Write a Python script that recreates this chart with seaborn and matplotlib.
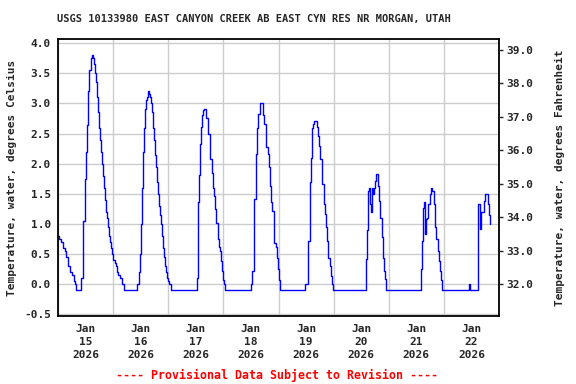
import numpy as np
import pandas as pd
import matplotlib
matplotlib.use("Agg")
import matplotlib.pyplot as plt
import matplotlib.dates as mdates
import seaborn as sns

# ---- data (hours since 2026-01-15 00:00, water temperature degC) ----
hours = [0.0, 0.65, 1.09, 1.96, 2.39, 2.83, 3.27, 3.70, 4.14, 4.57, 5.44, 6.31, 6.75, 7.18, 7.4, 7.62,
         10.23, 10.67, 11.10, 11.76, 12.19, 12.63, 13.06, 13.50, 14.15, 14.59, 15.24, 15.67, 16.11,
         16.55, 16.98, 17.42, 17.85, 18.29, 18.72, 19.16, 19.59, 20.03, 20.46, 20.90, 21.33, 21.77,
         22.21, 22.64, 23.08, 23.51, 23.95, 24.60, 25.04, 25.47, 26.12, 26.78, 27.65, 28.08, 28.74,
         34.61, 35.05, 35.70, 36.14, 36.57, 37.01, 37.44, 37.88, 38.32, 38.75, 39.19, 39.62, 40.06,
         40.49, 40.93, 41.36, 41.80, 42.23, 42.67, 43.10, 43.54, 43.98, 44.41, 44.85, 45.28, 45.72,
         46.15, 46.59, 47.02, 47.46, 47.89, 48.33, 48.98,
         60.30, 60.43, 61.04, 61.30, 61.61, 61.91, 62.17, 62.61, 63.05, 63.48, 63.92, 64.22, 64.53,
         65.09, 65.40, 65.96, 66.27, 66.83, 67.40, 68.01, 68.27, 68.88, 69.45, 69.75, 70.01, 70.32,
         70.88, 71.49, 71.75, 72.36, 72.62,
         83.95, 84.56, 85.12, 85.43, 85.99, 86.30, 86.56, 87.17, 87.73, 88.73, 89.17, 89.78, 90.35,
         90.65, 91.22, 91.78, 92.09, 92.65, 93.26, 93.83, 94.13, 94.70, 95.27, 95.57, 96.14, 96.75,
         107.46, 108.94, 109.50, 110.07, 110.38, 110.68, 110.94, 111.55, 112.70, 112.99, 113.55,
         114.16, 114.73, 115.03, 115.60, 116.17, 116.77, 117.04, 117.64, 118.21, 118.78, 119.39, 119.65,
         134.19, 134.45, 134.89, 135.32, 135.93, 136.19, 136.50, 136.80, 137.06, 137.37, 137.94,
         138.54, 139.11, 139.68, 140.29, 140.85, 141.42, 142.03, 142.29, 142.90,
         158.14, 158.57, 158.83, 159.27, 159.58, 159.88, 160.14, 160.58, 161.19, 161.75, 162.32,
         162.93, 163.50, 164.06, 164.67, 165.24, 165.80, 166.41, 166.67, 167.28,
         178.86, 179.47, 182.65, 182.96, 183.52, 183.83, 184.09, 184.70, 185.26, 185.83, 186.44,
         187.00, 187.57, 188.00]
temp_c = [0.8, 0.75, 0.7, 0.65, 0.6, 0.55, 0.5, 0.45, 0.4, 0.3, 0.2, 0.15, 0.1, 0.05, 0.0, -0.1,
          0.1, 0.6, 1.05, 1.75, 2.2, 2.65, 3.2, 3.55, 3.75, 3.8, 3.75, 3.65, 3.5,
          3.35, 3.1, 2.85, 2.6, 2.4, 2.2, 2.0, 1.8, 1.6, 1.4, 1.2, 1.1, 0.95,
          0.8, 0.7, 0.6, 0.5, 0.4, 0.35, 0.3, 0.2, 0.15, 0.1, 0.05, 0.0, -0.1,
          0.0, 0.2, 0.5, 1.0, 1.6, 2.2, 2.6, 2.9, 3.05, 3.1, 3.2, 3.15, 3.1,
          3.0, 2.85, 2.6, 2.4, 2.15, 1.95, 1.7, 1.5, 1.3, 1.15, 1.0, 0.8, 0.6,
          0.45, 0.3, 0.2, 0.1, 0.05, 0.0, -0.1,
          0.0, 0.1, 1.36, 1.81, 2.12, 2.32, 2.61, 2.8, 2.89, 2.9, 2.9, 2.85, 2.76,
          2.6, 2.49, 2.27, 2.08, 1.85, 1.6, 1.47, 1.25, 1.02, 0.89, 0.75, 0.61, 0.55,
          0.39, 0.22, 0.06, 0.0, -0.1,
          0.0, 0.22, 0.89, 1.41, 1.69, 2.16, 2.6, 2.82, 3.0, 3.0, 2.8, 2.66, 2.46,
          2.27, 2.16, 1.94, 1.63, 1.36, 1.22, 1.05, 0.69, 0.61, 0.44, 0.25, 0.06, -0.1,
          0.0, 0.72, 1.69, 2.1, 2.52, 2.6, 2.66, 2.7, 2.61, 2.46, 2.3,
          2.08, 1.85, 1.66, 1.33, 1.16, 0.94, 0.72, 0.44, 0.3, 0.14, 0.0, -0.1,
          0.42, 0.89, 1.55, 1.6, 1.33, 1.19, 1.44, 1.6, 1.5, 1.6, 1.72,
          1.82, 1.63, 1.38, 1.1, 0.78, 0.44, 0.22, 0.08, -0.1,
          0.25, 0.72, 1.27, 1.36, 1.19, 0.83, 1.08, 1.1, 1.33, 1.5, 1.6,
          1.55, 1.33, 0.94, 0.75, 0.55, 0.39, 0.22, 0.06, -0.1,
          0.0, -0.1, 0.89, 1.33, 1.3, 0.91, 1.19, 1.19, 1.38, 1.5, 1.5,
          1.33, 1.14, 1.0]

title = "USGS 10133980 EAST CANYON CREEK AB EAST CYN RES NR MORGAN, UTAH"
ylabel_c = "Temperature, water, degrees Celsius"
ylabel_f = "Temperature, water, degrees Fahrenheit"
footer = "---- Provisional Data Subject to Revision ----"
c_ticks = [-0.5, 0.0, 0.5, 1.0, 1.5, 2.0, 2.5, 3.0, 3.5, 4.0]
f_ticks = [32, 33, 34, 35, 36, 37, 38, 39]
start = pd.Timestamp("2026-01-15")
end = pd.Timestamp("2026-01-23")

sns.set_style("white")
plt.rcParams["font.family"] = ["DejaVu Sans Mono", "DejaVu Sans"]
plt.rcParams["font.weight"] = "bold"

df = pd.DataFrame({"time": start + pd.to_timedelta(hours, unit="h"), "temp": temp_c})

fig = plt.figure(figsize=(5.76, 3.84), dpi=100)
ax = fig.add_axes([58 / 576, 1 - 316 / 384, 441 / 576, 277 / 384])

sns.lineplot(data=df, x="time", y="temp", ax=ax, color="#0000ff", linewidth=1.0,
             estimator=None, sort=False, drawstyle="steps-post")

ax.set_xlim(start, end)
ax.set_ylim(-0.53, 4.07)
ax.set_yticks(c_ticks)
ax.set_yticklabels([f"{v:.1f}" for v in c_ticks], fontsize=8, fontweight="bold")
ax.tick_params(axis="y", length=0, pad=5)

# gridlines at midnight, labels at noon
ax.xaxis.set_major_locator(mdates.DayLocator())
ax.xaxis.set_major_formatter(plt.NullFormatter())
ax.xaxis.set_minor_locator(mdates.HourLocator(byhour=[12]))
ax.xaxis.set_minor_formatter(mdates.DateFormatter("%b\n%d\n%Y"))
ax.tick_params(axis="x", which="major", length=0)
ax.tick_params(axis="x", which="minor", length=0, pad=6, labelsize=8)
for lab in ax.xaxis.get_minorticklabels():
    lab.set_fontweight("bold")
    lab.set_linespacing(1.35)

ax.grid(True, which="major", color="#cccccc", linewidth=1.0)
ax.set_axisbelow(True)
for sp in ax.spines.values():
    sp.set_color("black")
    sp.set_linewidth(1.3)

ax.set_xlabel("")
ax.set_ylabel(ylabel_c, fontsize=8, fontweight="bold", labelpad=5)

ax2 = ax.twinx()
lo, hi = ax.get_ylim()
ax2.set_ylim(lo * 1.8 + 32, hi * 1.8 + 32)
ax2.set_yticks(f_ticks)
ax2.set_yticklabels([f"{v:.1f}" for v in f_ticks], fontsize=8, fontweight="bold")
ax2.tick_params(axis="y", length=3, width=1, pad=2, direction="out")
ax2.set_ylabel(ylabel_f, fontsize=8, fontweight="bold", labelpad=16)
for sp in ax2.spines.values():
    sp.set_visible(False)

fig.text(254 / 576, 1 - 19 / 384, title, ha="center", va="center", fontsize=7.5, fontweight="bold")
fig.text(277 / 576, 1 - 375 / 384, footer, ha="center", va="center", fontsize=8.4,
         fontweight="bold", color="red")

fig.savefig("out.png", dpi=100)
